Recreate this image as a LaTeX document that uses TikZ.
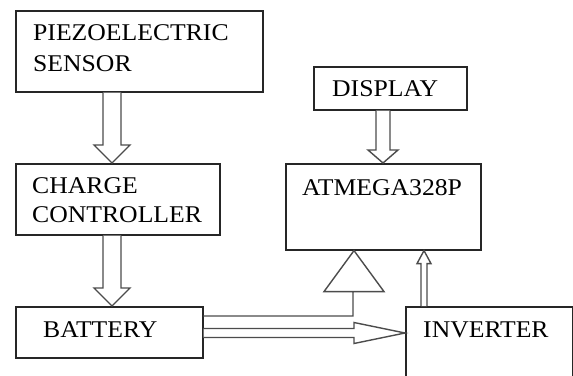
\documentclass[tikz,border=0pt]{standalone}
\usepackage{fontspec}
\setmainfont{Liberation Serif}[FakeStretch=1.07]
\usetikzlibrary{calc}
\tikzset{
  box/.style={draw=black!85, line width=1.6pt, inner sep=0pt, anchor=north west},
  lbl/.style={inner sep=0pt, anchor=base west, align=left, font=\fontsize{24}{30}\selectfont},
  blk/.style={draw=black!70, line width=1.4pt, line join=miter, fill=white},
}
% vertical block arrow: #1 start (y only), #2 tip, #3 half shaft, #4 half head, #5 signed head length
\newcommand\vblk[5]{%
  \draw[blk] let \p1=(#1), \p2=(#2) in
    (\x2-#3,\y1) -- (\x2-#3,\y2+#5) -- (\x2-#4,\y2+#5) -- (\x2,\y2)
    -- (\x2+#4,\y2+#5) -- (\x2+#3,\y2+#5) -- (\x2+#3,\y1);}
\begin{document}
\begin{tikzpicture}[x=1pt,y=-1pt]
\useasboundingbox (0,0) rectangle (573,375);
% boxes
\node[box, minimum width=247pt, minimum height=81pt] (piezo) at (15,10) {};
\node[box, minimum width=204pt, minimum height=71pt] (charge) at (15,163) {};
\node[box, minimum width=187pt, minimum height=51pt] (battery) at (15,306) {};
\node[box, minimum width=153pt, minimum height=43pt] (display) at (313,66) {};
\node[box, minimum width=195pt, minimum height=86pt] (atmega) at (285,163) {};
\node[box, minimum width=167pt, minimum height=95pt] (inverter) at (405,306) {};
% texts (multi-line: anchor on last baseline)
\node[lbl, font=\fontsize{24}{31}\selectfont] (piezo-t) at ($(piezo.north west)+(18,61)$) {PIEZOELECTRIC\\SENSOR};
\node[lbl, font=\fontsize{24}{29}\selectfont] (charge-t) at ($(charge.north west)+(17,59)$) {CHARGE\\CONTROLLER};
\node[lbl] (battery-t) at ($(battery.north west)+(28,31)$) {BATTERY};
\node[lbl] (display-t) at ($(display.north west)+(19,30)$) {DISPLAY};
\node[lbl] (atmega-t) at ($(atmega.north west)+(17,32)$) {ATMEGA328P};
\node[lbl] (inverter-t) at ($(inverter.north west)+(18,31)$) {INVERTER};
% block arrows
\vblk{piezo.south}{$(charge.north west)+(97,0)$}{9pt}{18pt}{18pt}
\vblk{charge.south}{$(battery.north west)+(97,0)$}{9pt}{18pt}{18pt}
\vblk{display.south}{$(atmega.north west)+(98,0)$}{7pt}{15pt}{13pt}
\vblk{inverter.north}{$(atmega.south west)+(139,0)$}{3pt}{7pt}{-13pt}
% battery -> inverter
\draw[blk] let \p1=(battery.east), \p2=($(inverter.north west)+(0,27)$) in
  (\x1,\y2+4.5pt) -- (\x2-51pt,\y2+4.5pt) -- (\x2-51pt,\y2+10.5pt) -- (\x2,\y2)
  -- (\x2-51pt,\y2-10.5pt) -- (\x2-51pt,\y2-4.5pt) -- (\x1,\y2-4.5pt);
% battery -> atmega (open triangle)
\draw[blk] let \p1=($(battery.north east)+(0,10)$), \p2=($(atmega.south west)+(69,0)$) in
  (\x1,\y1) -- (\x2-1pt,\y1) -- (\x2-1pt,\y2-41pt) -- (\x2-30pt,\y2-41pt) -- (\x2,\y2)
  -- (\x2+30pt,\y2-41pt) -- (\x2-1pt,\y2-41pt);
\end{tikzpicture}
\end{document}
